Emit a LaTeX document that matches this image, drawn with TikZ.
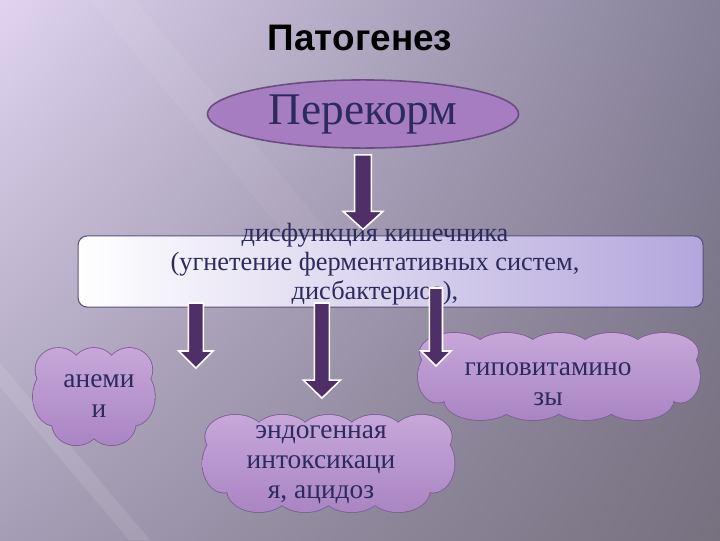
\documentclass[tikz,border=0pt]{standalone}
\usepackage{fontspec}
\setmainfont{Liberation Serif}
\newfontfamily\titlefont{Liberation Sans}
\usepackage{xcolor}
\usepackage{tikz}
\usetikzlibrary{positioning,shapes.geometric,shadings,calc}

\definecolor{bgul}{HTML}{E0D4F0}
\definecolor{bgur}{HTML}{857F98}
\definecolor{bgll}{HTML}{A59DB5}
\definecolor{bglr}{HTML}{76707F}
\definecolor{navy}{HTML}{2D2B5E}
\definecolor{ellfill}{HTML}{A77DC2}
\definecolor{ellline}{HTML}{6A4C80}
\definecolor{boxright}{HTML}{B3A6DC}
\definecolor{boxline}{HTML}{5C5078}
\definecolor{arrowfill}{HTML}{4F2F68}
\definecolor{cloudtop}{HTML}{C8A8DA}
\definecolor{cloudbot}{HTML}{A884C2}
\definecolor{cloudline}{HTML}{7D5E92}

% block arrow: from, to, shaft half width, head half width, head length
\newcommand{\blockarrow}[5]{%
  \draw[arrowbody] let \p1=(#1), \p2=(#2) in
    (\x1-#3,\y1) -- (\x1+#3,\y1) -- (\x1+#3,\y2+#5) -- (\x1+#4,\y2+#5)
    -- (\x1,\y2) -- (\x1-#4,\y2+#5) -- (\x1-#3,\y2+#5) -- cycle;}

% cloud puffs: options, half width, half height, puffs per row, inset
\newcommand{\cloudpuffs}[5]{%
  \pgfmathsetmacro\cs{(2*#2-2*#5)/(#4-1)}
  \path[#1] foreach \i in {1,...,#4} {
      ({-#2+#5+(\i-1)*\cs},{0.55*#3}) ellipse [x radius={0.65*\cs}, y radius={0.45*#3}]}
    foreach \i in {2,...,#4} {
      ({-#2+#5+(\i-1.5)*\cs},{-0.55*#3}) ellipse [x radius={0.68*\cs}, y radius={0.45*#3}]}
    ({-#2+0.45*#3},0) ellipse [x radius={0.45*#3}, y radius={0.6*#3}]
    ({#2-0.45*#3},0) ellipse [x radius={0.45*#3}, y radius={0.6*#3}]
    (0,0) ellipse [x radius={#2-0.45*#3}, y radius={0.7*#3}];}
% centre, half width, half height, puffs per row, inset
\newcommand{\drawcloud}[5]{%
  \begin{scope}[shift={#1}]
    \cloudpuffs{draw=cloudline, line width=1.6pt}{#2}{#3}{#4}{#5}
    \begin{scope}
      \cloudpuffs{clip}{#2}{#3}{#4}{#5}
      \shade[top color=cloudtop, bottom color=cloudbot] (-#2-0.1,-#3-0.1) rectangle (#2+0.1,#3+0.1);
    \end{scope}
  \end{scope}}

\begin{document}
\begin{tikzpicture}[
  arrowbody/.style={draw=white, line width=1.5pt, fill=arrowfill, line join=miter},
  cloudtext/.style={align=center, text=navy, font=\fontsize{26}{28.5}\selectfont},
]
\useasboundingbox (0,0) rectangle (24,18);
% background
\shade[upper left=bgul, upper right=bgur, lower left=bgll, lower right=bglr] (0,0) rectangle (24,18);
\fill[white, opacity=0.1] (0,5.9) -- (0,5.1) -- (4.3,0) -- (5.0,0) -- cycle;
\fill[white, opacity=0.05] (3,18) -- (4.5,18) -- (12,9) -- (10.5,9) -- cycle;

% title
\node[font=\titlefont\bfseries\fontsize{35}{40}\selectfont] (title) at (12,16.73) {Патогенез};

% top ellipse
\node[ellipse, draw=ellline, line width=1.5pt, fill=ellfill, minimum width=10.37cm,
  minimum height=2.27cm, text=navy, font=\fontsize{43}{46}\selectfont] (perekorm) at (12.1,14.2) {Перекорм};

% box
\node[draw=boxline, line width=1pt, rounded corners=0.3cm, left color=white, right color=boxright,
  minimum width=20.83cm, minimum height=2.37cm] (box) at (13.02,8.95) {};
\node[align=center, text=navy, font=\fontsize{25}{27.5}\selectfont] (dysf) at (12.5,9.2)
  {дисфункция кишечника\\(угнетение ферментативных систем,\\дисбактериоз),};

% clouds
\drawcloud{(3.13,4.78)}{2.03}{1.62}{3}{0.85}
\node[cloudtext] (anemiatxt) at (3.3,4.8) {анеми\\и};
\drawcloud{(10.95,2.55)}{4.2}{1.62}{5}{1.1}
\node[cloudtext] (endotxt) at (10.7,2.5) {эндогенная\\интоксикаци\\я, ацидоз};
\drawcloud{(18.63,5.45)}{4.7}{1.45}{5}{1.2}
\node[cloudtext] (hypotxt) at (18.27,5.2) {гиповитамино\\зы};

% arrows
\coordinate (a0top) at ($(perekorm.south)+(0,-0.2)$);
\coordinate (a0tip) at ($(perekorm.south |- box.north)+(0,0.2)$);
\blockarrow{a0top}{a0tip}{0.28cm}{0.66cm}{0.6cm}
\coordinate (a1top) at (6.53,7.9);
\coordinate (a1tip) at (6.53,5.73);
\blockarrow{a1top}{a1tip}{0.25cm}{0.57cm}{0.57cm}
\coordinate (a2top) at (10.73,7.9);
\coordinate (a2tip) at (10.73,4.73);
\blockarrow{a2top}{a2tip}{0.25cm}{0.62cm}{0.6cm}
\coordinate (a3top) at (14.53,8.4);
\coordinate (a3tip) at (14.53,5.8);
\blockarrow{a3top}{a3tip}{0.22cm}{0.5cm}{0.5cm}
\end{tikzpicture}
\end{document}
